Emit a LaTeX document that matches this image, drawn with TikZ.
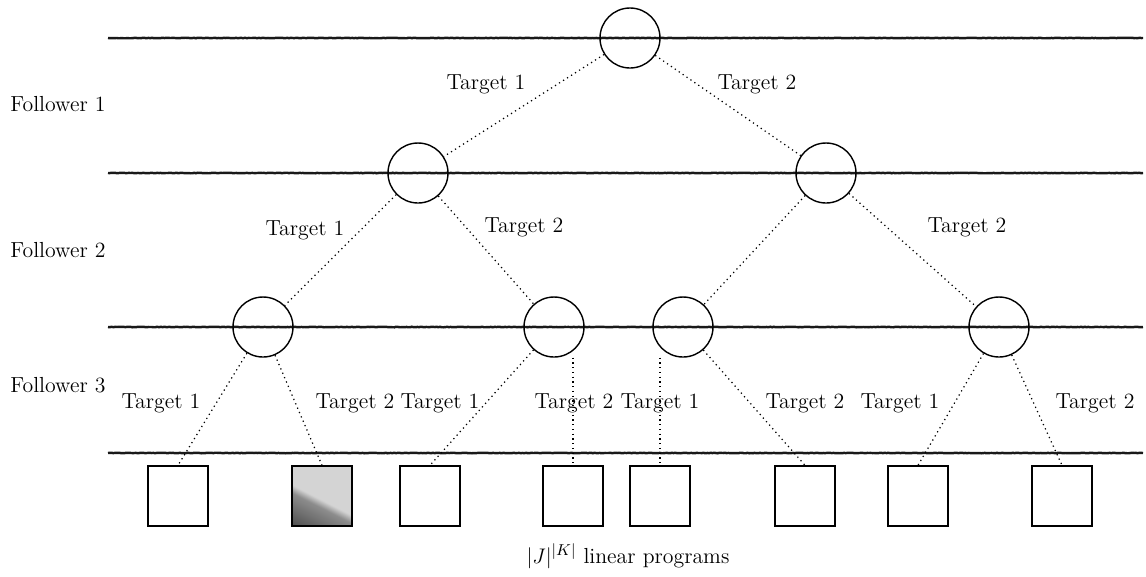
\documentclass[tikz,border=0pt]{standalone}
\usetikzlibrary{decorations.pathmorphing}
\pgfdeclareverticalshading{sqshade}{100bp}{color(0bp)=(black!78); color(14bp)=(black!72); color(41bp)=(black!45); color(47bp)=(black!17); color(100bp)=(black!17)}
\tikzset{
  level/.style={line width=1.4pt, black!90, decorate, decoration={random steps, segment length=1pt, amplitude=0.15pt}},
  state/.style={circle, draw, line width=0.8pt, minimum size=60*0.02cm, inner sep=0pt},
  lp/.style={draw, line width=0.8pt, minimum size=60*0.02cm, inner sep=0pt},
  edge/.style={dotted, line width=0.7pt},
  lab/.style={font=\fontsize{12.4}{15}\selectfont, inner sep=1pt},
}
\begin{document}
\begin{tikzpicture}[x=0.02cm, y=-0.02cm]
\useasboundingbox (0,0) rectangle (1146,576);
% level lines
\foreach \yy/\nm in {38/l1,173/l2,327/l3,453/l4}{
  \coordinate (\nm a) at (108,\yy);
  \coordinate (\nm b) at (1143,\yy);
  \draw[level] (\nm a) -- (\nm b);
}
% nodes
\node[state] (r) at (630,38) {};
\node[state] (a) at (418,173) {};
\node[state] (b) at (826,173) {};
\node[state] (aa) at (263,327) {};
\node[state] (ab) at (554,327) {};
\node[state] (ba) at (683,327) {};
\node[state] (bb) at (999,327) {};
% squares
\node[lp] (s1) at (178,496) {};
\shade[shading=sqshade, shading angle=-27] (292,466) rectangle (352,526);
\node[lp] (s2) at (322,496) {};
\node[lp] (s3) at (430,496) {};
\node[lp] (s4) at (573,496) {};
\node[lp] (s5) at (660,496) {};
\node[lp] (s6) at (805,496) {};
\node[lp] (s7) at (918,496) {};
\node[lp] (s8) at (1062,496) {};
% edges
\draw[edge] (r) -- (a);
\draw[edge] (r) -- (b);
\draw[edge] (a) -- (aa);
\draw[edge] (a) -- (ab);
\draw[edge] (b) -- (ba);
\draw[edge] (b) -- (bb);
\draw[edge] (aa) -- (s1.north);
\draw[edge] (aa) -- (s2.north);
\draw[edge] (ab) -- (s3.north);
\draw[edge] (ab.south -| s4.north) -- (s4.north);
\draw[edge] (ba.south -| s5.north) -- (s5.north);
\draw[edge] (ba) -- (s6.north);
\draw[edge] (bb) -- (s7.north);
\draw[edge] (bb) -- (s8.north);
% follower labels
\node[lab] (f1) at (58,104) {Follower 1};
\node[lab] (f2) at (58,250) {Follower 2};
\node[lab] (f3) at (58,385) {Follower 3};
% target labels
\node[lab] (t1) at (486,84) {Target 1};
\node[lab] (t2) at (757,84) {Target 2};
\node[lab] (t3) at (305,230) {Target 1};
\node[lab] (t4) at (524,227) {Target 2};
\node[lab] (t5) at (967,227) {Target 2};
\node[lab] (u1) at (161,403) {Target 1};
\node[lab] (u2) at (355,403) {Target 2};
\node[lab] (u3) at (440,403) {Target 1};
\node[lab] (u4) at (574,403) {Target 2};
\node[lab] (u5) at (660,403) {Target 1};
\node[lab] (u6) at (805,403) {Target 2};
\node[lab] (u7) at (900,403) {Target 1};
\node[lab] (u8) at (1095,403) {Target 2};
\node[lab] (cap) at (628,556) {$|J|^{|K|}$ linear programs};
\end{tikzpicture}
\end{document}
